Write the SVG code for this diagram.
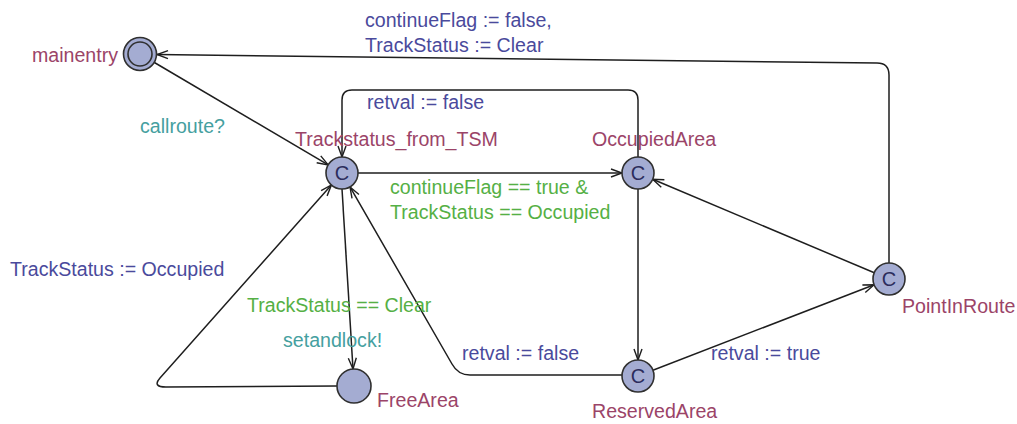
<svg xmlns="http://www.w3.org/2000/svg" width="1017" height="424" viewBox="0 0 1017 424">
<style>
text{font-family:"Liberation Sans",Arial,sans-serif;font-size:19.6px}
.nm{fill:#9b4468}
.as{fill:#4a4a9c}
.gd{fill:#55b045}
.sy{fill:#45a0a0}
.loc{fill:#a4acd2;stroke:#303030;stroke-width:1.6}
.cl{fill:#2c2c5c;font-size:20px}
.e{fill:none;stroke:#1e1e1e;stroke-width:1.5;marker-end:url(#ah)}
</style>
<defs>
<marker id="ah" markerUnits="userSpaceOnUse" markerWidth="14" markerHeight="12" refX="12" refY="5" orient="auto">
<path d="M1,1 L12,5 L1,9" fill="none" stroke="#1e1e1e" stroke-width="1.4"/>
</marker>
</defs>
<rect width="1017" height="424" fill="#fff"/>
<g id="connectors">
<path class="e" d="M154.4,62.5 L328.2,164.9"/>
<path class="e" d="M889,263 L889,75 Q889,63 877,63 L157,54.5"/>
<path class="e" d="M638,157 L638,100 Q638,90 628,90 L352,90 Q342,90 342,100 L342,157"/>
<path class="e" d="M358,173 L622,173"/>
<path class="e" d="M638,189 L638,360"/>
<path class="e" d="M652.9,370.2 L874.1,284.8"/>
<path class="e" d="M874.3,272.8 L652.7,179.2"/>
<path class="e" d="M622,375 L470,375 Q458,375 452,364 L350,186.9"/>
<path class="e" d="M342,189 L353,369"/>
<path class="e" d="M337,386 L166,387 Q152,387 160,378 L331.4,185"/>
</g>
<g id="labels">
<text class="as" x="365" y="27">continueFlag := false,</text>
<text class="as" x="365" y="52">TrackStatus := Clear</text>
<text class="sy" x="140" y="133">callroute?</text>
<text class="as" x="367" y="109">retval := false</text>
<text class="gd" x="390" y="194">continueFlag == true &amp;</text>
<text class="gd" x="390" y="219">TrackStatus == Occupied</text>
<text class="as" x="10" y="276">TrackStatus := Occupied</text>
<text class="gd" x="247" y="312">TrackStatus == Clear</text>
<text class="sy" x="283" y="347">setandlock!</text>
<text class="as" x="462" y="360">retval := false</text>
<text class="as" x="711" y="360">retval := true</text>
</g>
<g id="mainentry">
<circle class="loc" cx="140" cy="54" r="16.5"/>
<circle class="loc" cx="140" cy="54" r="12"/>
<text class="nm" x="32" y="62">mainentry</text>
</g>
<g id="Trackstatus_from_TSM">
<circle class="loc" cx="342" cy="173" r="16"/>
<text class="cl" x="342" y="180" text-anchor="middle">C</text>
<text class="nm" x="295" y="146">Trackstatus_from_TSM</text>
</g>
<g id="OccupiedArea">
<circle class="loc" cx="638" cy="173" r="16"/>
<text class="cl" x="638" y="180" text-anchor="middle">C</text>
<text class="nm" x="592" y="146">OccupiedArea</text>
</g>
<g id="PointInRoute">
<circle class="loc" cx="889" cy="279" r="16"/>
<text class="cl" x="889" y="286" text-anchor="middle">C</text>
<text class="nm" x="902" y="313">PointInRoute</text>
</g>
<g id="ReservedArea">
<circle class="loc" cx="638" cy="376" r="16"/>
<text class="cl" x="638" y="383" text-anchor="middle">C</text>
<text class="nm" x="592" y="418">ReservedArea</text>
</g>
<g id="FreeArea">
<circle class="loc" cx="354" cy="386" r="17"/>
<text class="nm" x="377" y="407">FreeArea</text>
</g>
</svg>
